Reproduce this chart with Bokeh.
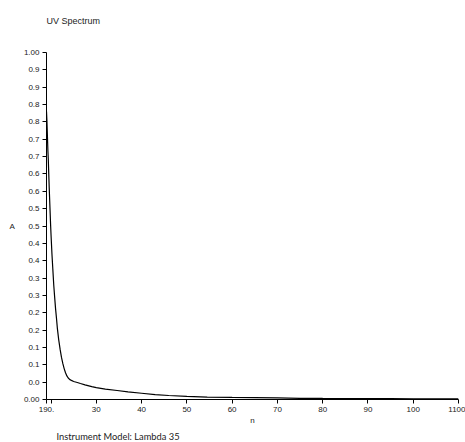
from bokeh.plotting import figure
from bokeh.models import FixedTicker, Title, Range1d
from bokeh.embed import file_html
from bokeh.resources import INLINE

# Spectrum data (wavelength nm, absorbance)
wavelength = [190, 191, 192, 193, 194, 195, 196, 197, 198, 199, 200, 202, 204, 206, 208,
              210, 212, 214, 217, 220, 223, 226, 229, 232, 235, 238, 241, 245, 250, 258,
              265, 275, 290, 300, 320, 346, 370, 400, 430, 460, 500, 545, 600, 650, 700,
              750, 800, 850, 900, 950, 1000, 1050, 1100]
absorbance = [0.83, 0.80, 0.76, 0.72, 0.69, 0.65, 0.61, 0.575, 0.54, 0.505, 0.475, 0.42,
              0.375, 0.33, 0.295, 0.262, 0.235, 0.205, 0.172, 0.145, 0.122, 0.104, 0.089,
              0.077, 0.068, 0.062, 0.058, 0.055, 0.052, 0.049, 0.046, 0.042, 0.037, 0.034,
              0.030, 0.026, 0.022, 0.018, 0.014, 0.0115, 0.0088, 0.0068, 0.006, 0.0055,
              0.0048, 0.0035, 0.003, 0.0028, 0.0025, 0.0023, 0.002, 0.002, 0.0018]

x_ticks = [190, 200, 300, 400, 500, 600, 700, 800, 900, 1000, 1100]
x_tick_labels = ["190.", "", "30", "40", "50", "60", "70", "80", "90", "100", "1100"]
y_ticks = [0.0, 0.05, 0.1, 0.15, 0.2, 0.25, 0.3, 0.35, 0.4, 0.45, 0.5,
           0.55, 0.6, 0.65, 0.7, 0.75, 0.8, 0.85, 0.9, 0.95, 1.0]
y_tick_labels = ["0.00", "0.0", "0.1", "0.1", "0.2", "0.2", "0.3", "0.3", "0.4", "0.4", "0.5",
                 "0.5", "0.6", "0.6", "0.7", "0.7", "0.8", "0.8", "0.9", "0.9", "1.00"]

FONT = "Liberation Sans"

p = figure(width=465, height=442, output_backend="svg", toolbar_location=None,
           x_range=Range1d(190, 1100), y_range=Range1d(0, 1),
           min_border_left=46, min_border_right=7, min_border_top=52, min_border_bottom=39)
p.title = None

p.line(wavelength, absorbance, line_color="black", line_width=1.2)

p.xgrid.visible = False
p.ygrid.visible = False
p.outline_line_color = None

spacer = Title(text=" ", text_font=FONT, text_font_size="18px", standoff=0)
p.add_layout(spacer, "above")
top_title = Title(text="UV Spectrum", align="left", text_font=FONT, text_font_size="9px",
                  text_font_style="normal", text_color="#222222")
p.add_layout(top_title, "above")

for ax in (p.xaxis[0], p.yaxis[0]):
    ax.axis_line_color = "black"
    ax.major_tick_line_color = "black"
    ax.minor_tick_line_color = None
    ax.major_tick_out = 4
    ax.major_tick_in = 0
    ax.major_label_text_font = FONT
    ax.major_label_text_font_size = "8px"
    ax.major_label_text_color = "#222222"
    ax.axis_label_text_font = FONT
    ax.axis_label_text_font_size = "8px"
    ax.axis_label_text_font_style = "normal"
    ax.axis_label_text_color = "#222222"

p.xaxis.ticker = FixedTicker(ticks=x_ticks)
p.xaxis.major_label_overrides = dict(zip(x_ticks, x_tick_labels))
p.xaxis.axis_label = "n"
p.xaxis.major_label_standoff = 3
p.xaxis.axis_label_standoff = 1

p.yaxis.ticker = FixedTicker(ticks=y_ticks)
p.yaxis.major_label_overrides = dict(zip(y_ticks, y_tick_labels))
p.yaxis.axis_label = "A"
p.yaxis.axis_label_orientation = "horizontal"
p.yaxis.major_label_standoff = 3
p.yaxis.axis_label_standoff = 6

bottom = Title(text="Instrument Model: Lambda 35", align="left", offset=10,
               text_font="Lato", text_font_size="9.3px", text_font_style="normal",
               text_color="#222222", standoff=2)
p.add_layout(bottom, "below")

open("out.html", "w").write(file_html(p, INLINE))
